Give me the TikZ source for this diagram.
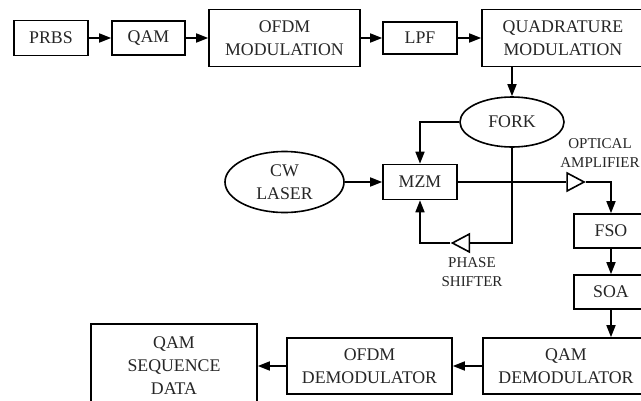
\documentclass[tikz,border=0pt]{standalone}
\usepackage{fontspec}
\setmainfont{Liberation Serif}
\usetikzlibrary{arrows.meta,shapes.geometric}
\begin{document}
\begin{tikzpicture}[x=1pt,y=-1pt,
  blk/.style={draw, line width=1.6pt, align=center, inner sep=0pt, text=black!85,
    font=\fontsize{17.8}{23}\selectfont},
  oval/.style={blk, ellipse},
  lbl/.style={align=center, inner sep=0pt, text=black!85, font=\fontsize{15}{19}\selectfont},
  tri/.style={draw, line width=1.6pt, fill=white, isosceles triangle,
    isosceles triangle stretches, inner sep=0pt, minimum width=18pt, minimum height=17pt},
  conn/.style={line width=1.6pt, -{Triangle[length=12pt,width=9pt]}},
  wire/.style={line width=1.6pt}]
\clip (0,0) rectangle (641,400);
\fill[white] (0,0) rectangle (641,400);
% top row
\node[blk, minimum width=74pt, minimum height=35pt] (prbs) at (51,38) {PRBS};
\node[blk, minimum width=73pt, minimum height=34pt] (qam) at (148.5,38) {QAM};
\node[blk, minimum width=151pt, minimum height=57pt] (ofdm) at (284.5,38) {OFDM\\MODULATION};
\node[blk, minimum width=74pt, minimum height=32pt] (lpf) at (420,38) {LPF};
\node[blk, minimum width=162pt, minimum height=57pt] (quad) at (563,38) {QUADRATURE\\MODULATION};
% middle
\node[oval, minimum width=104pt, minimum height=50pt] (fork) at (512,122) {FORK};
\node[oval, minimum width=119pt, minimum height=61pt] (cw) at (284.5,182) {CW\\LASER};
\node[blk, minimum width=74pt, minimum height=35pt] (mzm) at (420,182) {MZM};
\node[tri] (amp) at (572.5,182) {};
\node[tri, shape border rotate=180] (ps) at (464,243) {};
\node[lbl] (amplbl) at (600,153) {OPTICAL\\AMPLIFIER};
\node[lbl] (pslbl) at (472,272.5) {PHASE\\SHIFTER};
\node[blk, minimum width=74pt, minimum height=34pt] (fso) at (611,231) {FSO};
\node[blk, minimum width=74pt, minimum height=34pt] (soa) at (611,292) {SOA};
% bottom row
\node[blk, minimum width=166pt, minimum height=56pt] (qamd) at (566,366) {QAM\\DEMODULATOR};
\node[blk, minimum width=165pt, minimum height=56pt] (ofdmd) at (369.5,366) {OFDM\\DEMODULATOR};
\node[blk, minimum width=166pt, minimum height=84pt] (seq) at (174,366) {QAM\\SEQUENCE\\DATA};
% connectors
\draw[conn] (prbs) -- (qam);
\draw[conn] (qam) -- (ofdm);
\draw[conn] (ofdm) -- (lpf);
\draw[conn] (lpf) -- (quad);
\draw[conn] (fork.north |- quad.south) -- (fork.north);
\draw[conn] (fork.west) -| (mzm.north);
\draw[conn] (cw) -- (mzm);
\draw[wire] (mzm.east) -- (amp.west);
\draw[conn] (amp.east) -| (fso.north);
\draw[wire] (fork.south) |- (ps.east);
\draw[conn] (ps.west) -| (mzm.south);
\draw[conn] (fso) -- (soa);
\draw[conn] (soa.south) -- (soa.south |- qamd.north);
\draw[conn] (qamd) -- (ofdmd);
\draw[conn] (ofdmd) -- (seq);
\end{tikzpicture}
\end{document}
